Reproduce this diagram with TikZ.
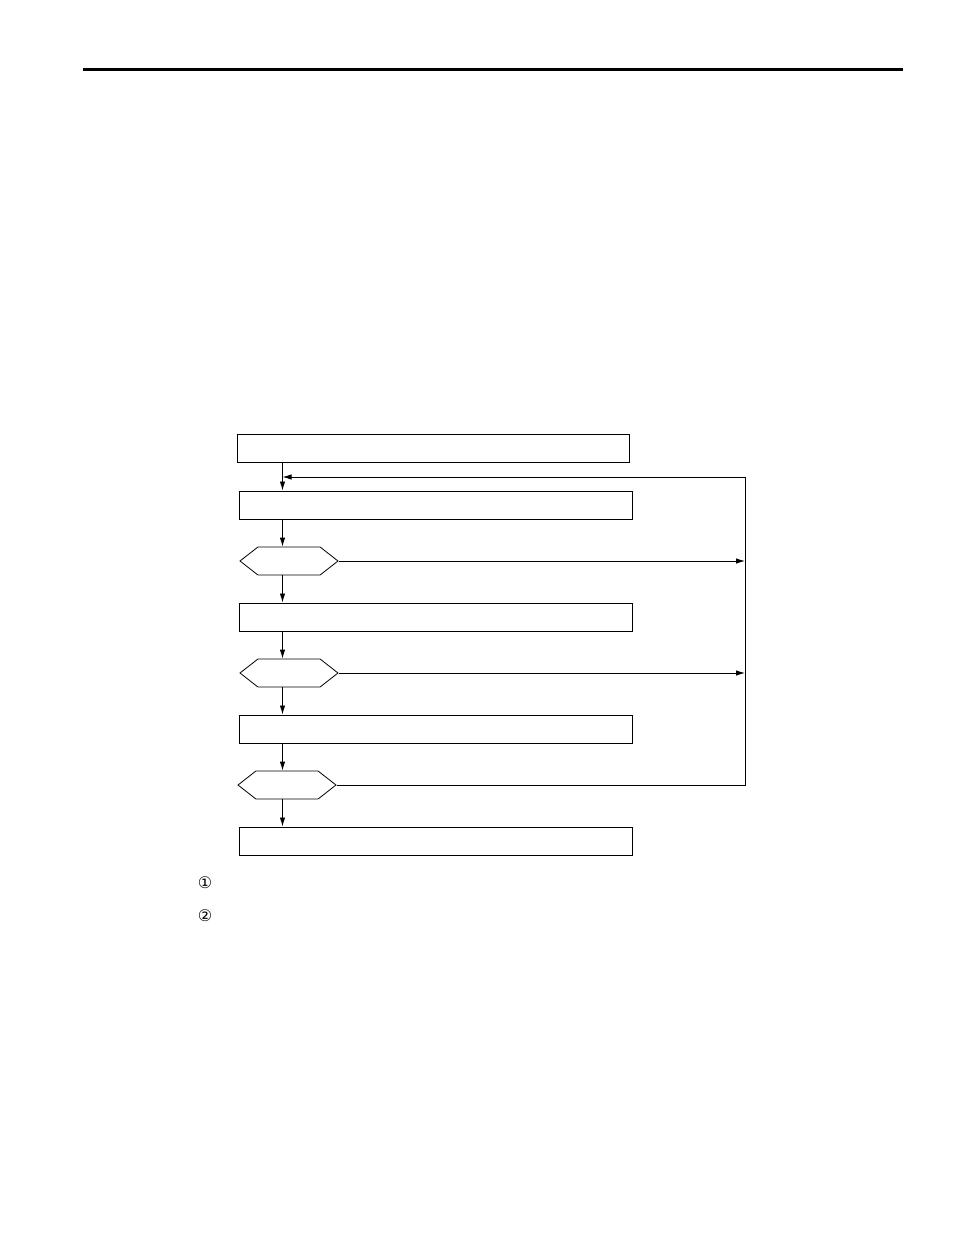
\documentclass[tikz,border=0pt]{standalone}
\usepackage{fontspec}
\newfontfamily\symfont{DejaVu Sans}
\usetikzlibrary{arrows.meta,shapes.symbols}
\tikzset{
  stepbox/.style={draw, line width=1pt, minimum width=393pt, minimum height=28pt, inner sep=0pt},
  testhex/.style={draw, line width=0.8pt, shape=signal, signal to=east and west, signal pointer angle=76, minimum width=98pt, minimum height=28pt, inner sep=0pt},
  flow/.style={line width=0.9pt, -{Latex[length=9pt,width=5.5pt]}},
  wire/.style={line width=0.9pt}
}

\begin{document}
\begin{tikzpicture}[x=1pt,y=-1pt]
			%%%%% START %%%%%
			\useasboundingbox (0,0) rectangle (954,1235);
			\draw[line width=2.2pt] (83,69.5) -- (903,69.5);
			
			\coordinate (spine) at (282.5,0);
			\coordinate (rail) at (745,0);
			\coordinate (back) at (0,477);
			
			\node[stepbox, minimum width=392pt] (init) at (433,448) {};
			\node[stepbox] (stepa) at (435.5,505) {};
			\node[testhex] (testa) at (289,561) {};
			\node[stepbox] (stepb) at (435.5,617) {};
			\node[testhex] (testb) at (289,673) {};
			\node[stepbox] (stepc) at (435.5,729) {};
			\node[testhex] (testc) at (287,785) {};
			\node[stepbox] (stepd) at (435.5,841) {};
			
			\draw[flow] (init.south -| spine) -- (stepa.north -| spine);
			\draw[flow] (stepa.south -| spine) -- (testa.north -| spine);
			\draw[flow] (testa.south -| spine) -- (stepb.north -| spine);
			\draw[flow] (stepb.south -| spine) -- (testb.north -| spine);
			\draw[flow] (testb.south -| spine) -- (stepc.north -| spine);
			\draw[flow] (stepc.south -| spine) -- (testc.north -| spine);
			\draw[flow] (testc.south -| spine) -- (stepd.north -| spine);
			
			\draw[flow] (testa.east) -- (rail |- testa.east);
			\draw[flow] (testb.east) -- (rail |- testb.east);
			\draw[wire] (testc.east) -- (rail |- testc.east) -- (rail |- back);
			\draw[flow] (rail |- back) -- (spine |- back);
			
			\node[font=\symfont\fontsize{16}{18}\selectfont] (noteone) at (205,883) {①};
			\node[font=\symfont\fontsize{16}{18}\selectfont] (notetwo) at (205,916) {②};
			%%%%% END %%%%%
		\end{tikzpicture}
\end{document}
